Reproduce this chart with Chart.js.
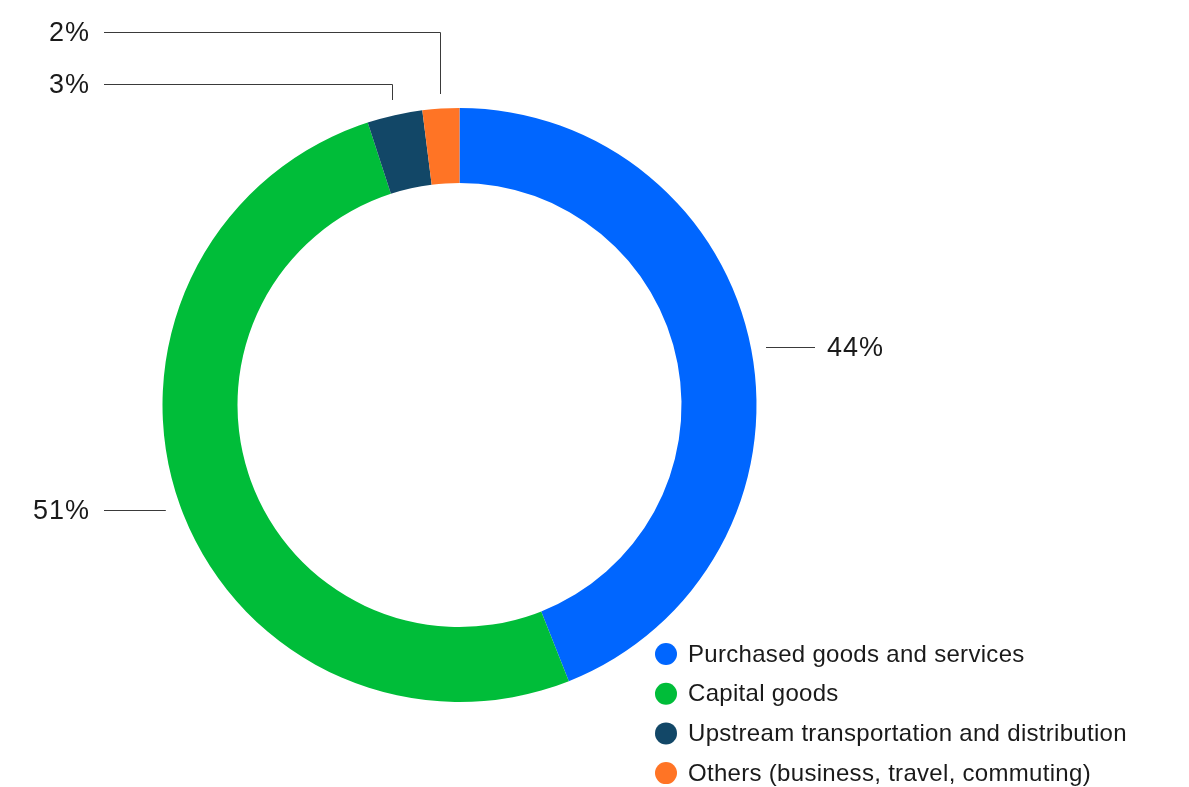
<!DOCTYPE html>
<html>
<head>
<meta charset="utf-8">
<script src="https://cdn.jsdelivr.net/npm/chart.js@4.4.1/dist/chart.umd.min.js"></script>
<style>
  html, body { margin: 0; padding: 0; background: #ffffff; }
  #wrap { width: 1189px; height: 787px; position: relative; }
</style>
</head>
<body>
<div id="wrap"><canvas id="chart"></canvas></div>
<script>
// Scope 3 emission categories and their shares (%)
const categories = [
  'Purchased goods and services',
  'Capital goods',
  'Upstream transportation and distribution',
  'Others (business, travel, commuting)'
];
const shares = [44, 51, 3, 2];
const colors = ['#0066ff', '#00bd39', '#124767', '#ff7425'];

const FONT = '"Liberation Sans", Arial, Helvetica, sans-serif';

// Percentage labels with leader lines around the ring
const sliceLabels = {
  id: 'sliceLabels',
  afterDatasetsDraw(chart) {
    const ctx = chart.ctx;
    const meta = chart.getDatasetMeta(0);
    const values = chart.data.datasets[0].data;
    const leftEdge = 104, leftText = 90;
    ctx.save();
    ctx.strokeStyle = '#3a3a3a';
    ctx.lineWidth = 1;
    ctx.fillStyle = '#1a1a1a';
    ctx.font = '27px ' + FONT;
    ctx.letterSpacing = '1px';
    ctx.textBaseline = 'middle';

    const items = meta.data.map((arc, i) => {
      const p = arc.getProps(['x', 'y', 'startAngle', 'endAngle', 'outerRadius'], true);
      const mid = (p.startAngle + p.endAngle) / 2;
      const r = p.outerRadius + 13;
      return {
        i, cx: p.x, cy: p.y, R: p.outerRadius,
        ax: p.x + Math.cos(mid) * r,
        ay: p.y + Math.sin(mid) * r,
        text: values[i] + '%'
      };
    });

    // slices close to the top get an elbow line into a stacked row
    const elbows = items.filter(it => it.ay < it.cy - it.R * 0.9)
                        .sort((a, b) => b.ay - a.ay);
    const baseRow = elbows.length ? Math.round(elbows[0].ay) - 18 : 0;
    elbows.forEach((it, k) => {
      const rowY = baseRow - k * 52 + 0.5;
      const ax = Math.round(it.ax) + 0.5;
      ctx.beginPath();
      ctx.moveTo(ax, Math.round(it.ay) - 2);
      ctx.lineTo(ax, rowY);
      ctx.lineTo(leftEdge, rowY);
      ctx.stroke();
      ctx.textAlign = 'right';
      ctx.fillText(it.text, leftText, rowY + 1);
    });

    items.filter(it => !elbows.includes(it)).forEach(it => {
      const ly = Math.round(it.ay) + 0.5;
      ctx.beginPath();
      if (it.ax > it.cx) {
        ctx.moveTo(it.ax + 2, ly);
        ctx.lineTo(it.ax + 51, ly);
        ctx.stroke();
        ctx.textAlign = 'left';
        ctx.fillText(it.text, it.ax + 63, ly + 1);
      } else {
        ctx.moveTo(it.ax - 2, ly);
        ctx.lineTo(leftEdge, ly);
        ctx.stroke();
        ctx.textAlign = 'right';
        ctx.fillText(it.text, leftText, ly + 1);
      }
    });
    ctx.restore();
  }
};

// Legend in the lower right corner, dot markers
const dotLegend = {
  id: 'dotLegend',
  afterDraw(chart) {
    const ctx = chart.ctx;
    const labels = chart.data.labels;
    const bg = chart.data.datasets[0].backgroundColor;
    const x0 = 666, y0 = 654, step = 39.7;
    ctx.save();
    ctx.font = '24px ' + FONT;
    ctx.letterSpacing = '0.3px';
    ctx.textBaseline = 'middle';
    ctx.textAlign = 'left';
    labels.forEach((lab, i) => {
      const y = y0 + i * step;
      ctx.beginPath();
      ctx.arc(x0, y, 11, 0, Math.PI * 2);
      ctx.fillStyle = bg[i];
      ctx.fill();
      ctx.fillStyle = '#1a1a1a';
      ctx.fillText(lab, x0 + 22, y + 1);
    });
    ctx.restore();
  }
};

new Chart(document.getElementById('chart'), {
  type: 'doughnut',
  data: {
    labels: categories,
    datasets: [{
      data: shares,
      backgroundColor: colors,
      borderWidth: 0,
      hoverOffset: 0
    }]
  },
  options: {
    responsive: true,
    maintainAspectRatio: false,
    animation: false,
    cutout: '74.75%',
    layout: { padding: { left: 162, right: 432, top: 108, bottom: 85 } },
    plugins: {
      legend: { display: false },
      tooltip: { enabled: false }
    }
  },
  plugins: [sliceLabels, dotLegend]
});
</script>
</body>
</html>
